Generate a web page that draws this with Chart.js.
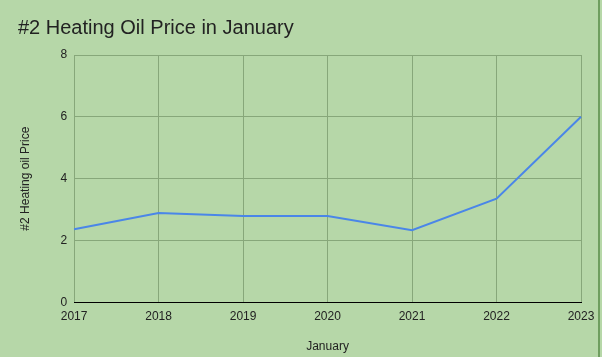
<!DOCTYPE html>
<html>
<head>
<meta charset="utf-8">
<script src="https://cdn.jsdelivr.net/npm/chart.js@4/dist/chart.umd.min.js"></script>
<style>
  html, body { margin: 0; padding: 0; background: #b6d7a8; }
  #wrap { position: relative; width: 602px; height: 357px; box-sizing: border-box; }
  #edge { position: absolute; left: 598px; top: 0; width: 2px; height: 357px; background: #6f9e5f; }
</style>
</head>
<body>
<div id="wrap">
  <canvas id="c" width="602" height="357"></canvas>
  <div id="edge"></div>
</div>
<script>
const years = ["2017", "2018", "2019", "2020", "2021", "2022", "2023"];
const prices = [2.36, 2.89, 2.79, 2.79, 2.33, 3.35, 6.0];
const yTicks = [0, 2, 4, 6, 8];

const ctx = document.getElementById('c');
new Chart(ctx, {
  type: 'line',
  data: {
    labels: years,
    datasets: [{
      label: '#2 Heating oil Price',
      data: prices,
      borderColor: '#4a86e8',
      borderWidth: 2,
      pointRadius: 0,
      tension: 0,
      fill: false
    }]
  },
  options: {
    responsive: false,
    animation: false,
    layout: { padding: { left: 18, right: 21, top: 14, bottom: 3 } },
    plugins: {
      legend: { display: false },
      tooltip: { enabled: false },
      title: {
        display: true,
        text: '#2 Heating Oil Price in January',
        align: 'start',
        color: '#222222',
        font: { family: 'Liberation Sans, Arial, sans-serif', size: 20, weight: 'normal' },
        padding: { top: 2, bottom: 15 }
      }
    },
    scales: {
      x: {
        offset: false,
        grid: { color: '#87a77a', lineWidth: 1, drawTicks: false },
        border: { color: '#000000', width: 1 },
        ticks: {
          color: '#222222',
          padding: 7,
          maxRotation: 0,
          font: { family: 'Liberation Sans, Arial, sans-serif', size: 12 }
        },
        title: {
          display: true,
          text: 'January',
          color: '#222222',
          font: { family: 'Liberation Sans, Arial, sans-serif', size: 12 },
          padding: { top: 9, bottom: 0 }
        }
      },
      y: {
        min: 0,
        max: 8,
        afterBuildTicks: (axis) => { axis.ticks = yTicks.map(v => ({ value: v })); },
        grid: { color: '#87a77a', lineWidth: 1, drawTicks: false },
        border: { display: false },
        ticks: {
          color: '#222222',
          padding: 7,
          font: { family: 'Liberation Sans, Arial, sans-serif', size: 12 }
        },
        title: {
          display: true,
          text: '#2 Heating oil Price',
          color: '#222222',
          font: { family: 'Liberation Sans, Arial, sans-serif', size: 12 },
          padding: { top: 0, bottom: 21 }
        }
      }
    }
  }
});
</script>
</body>
</html>
